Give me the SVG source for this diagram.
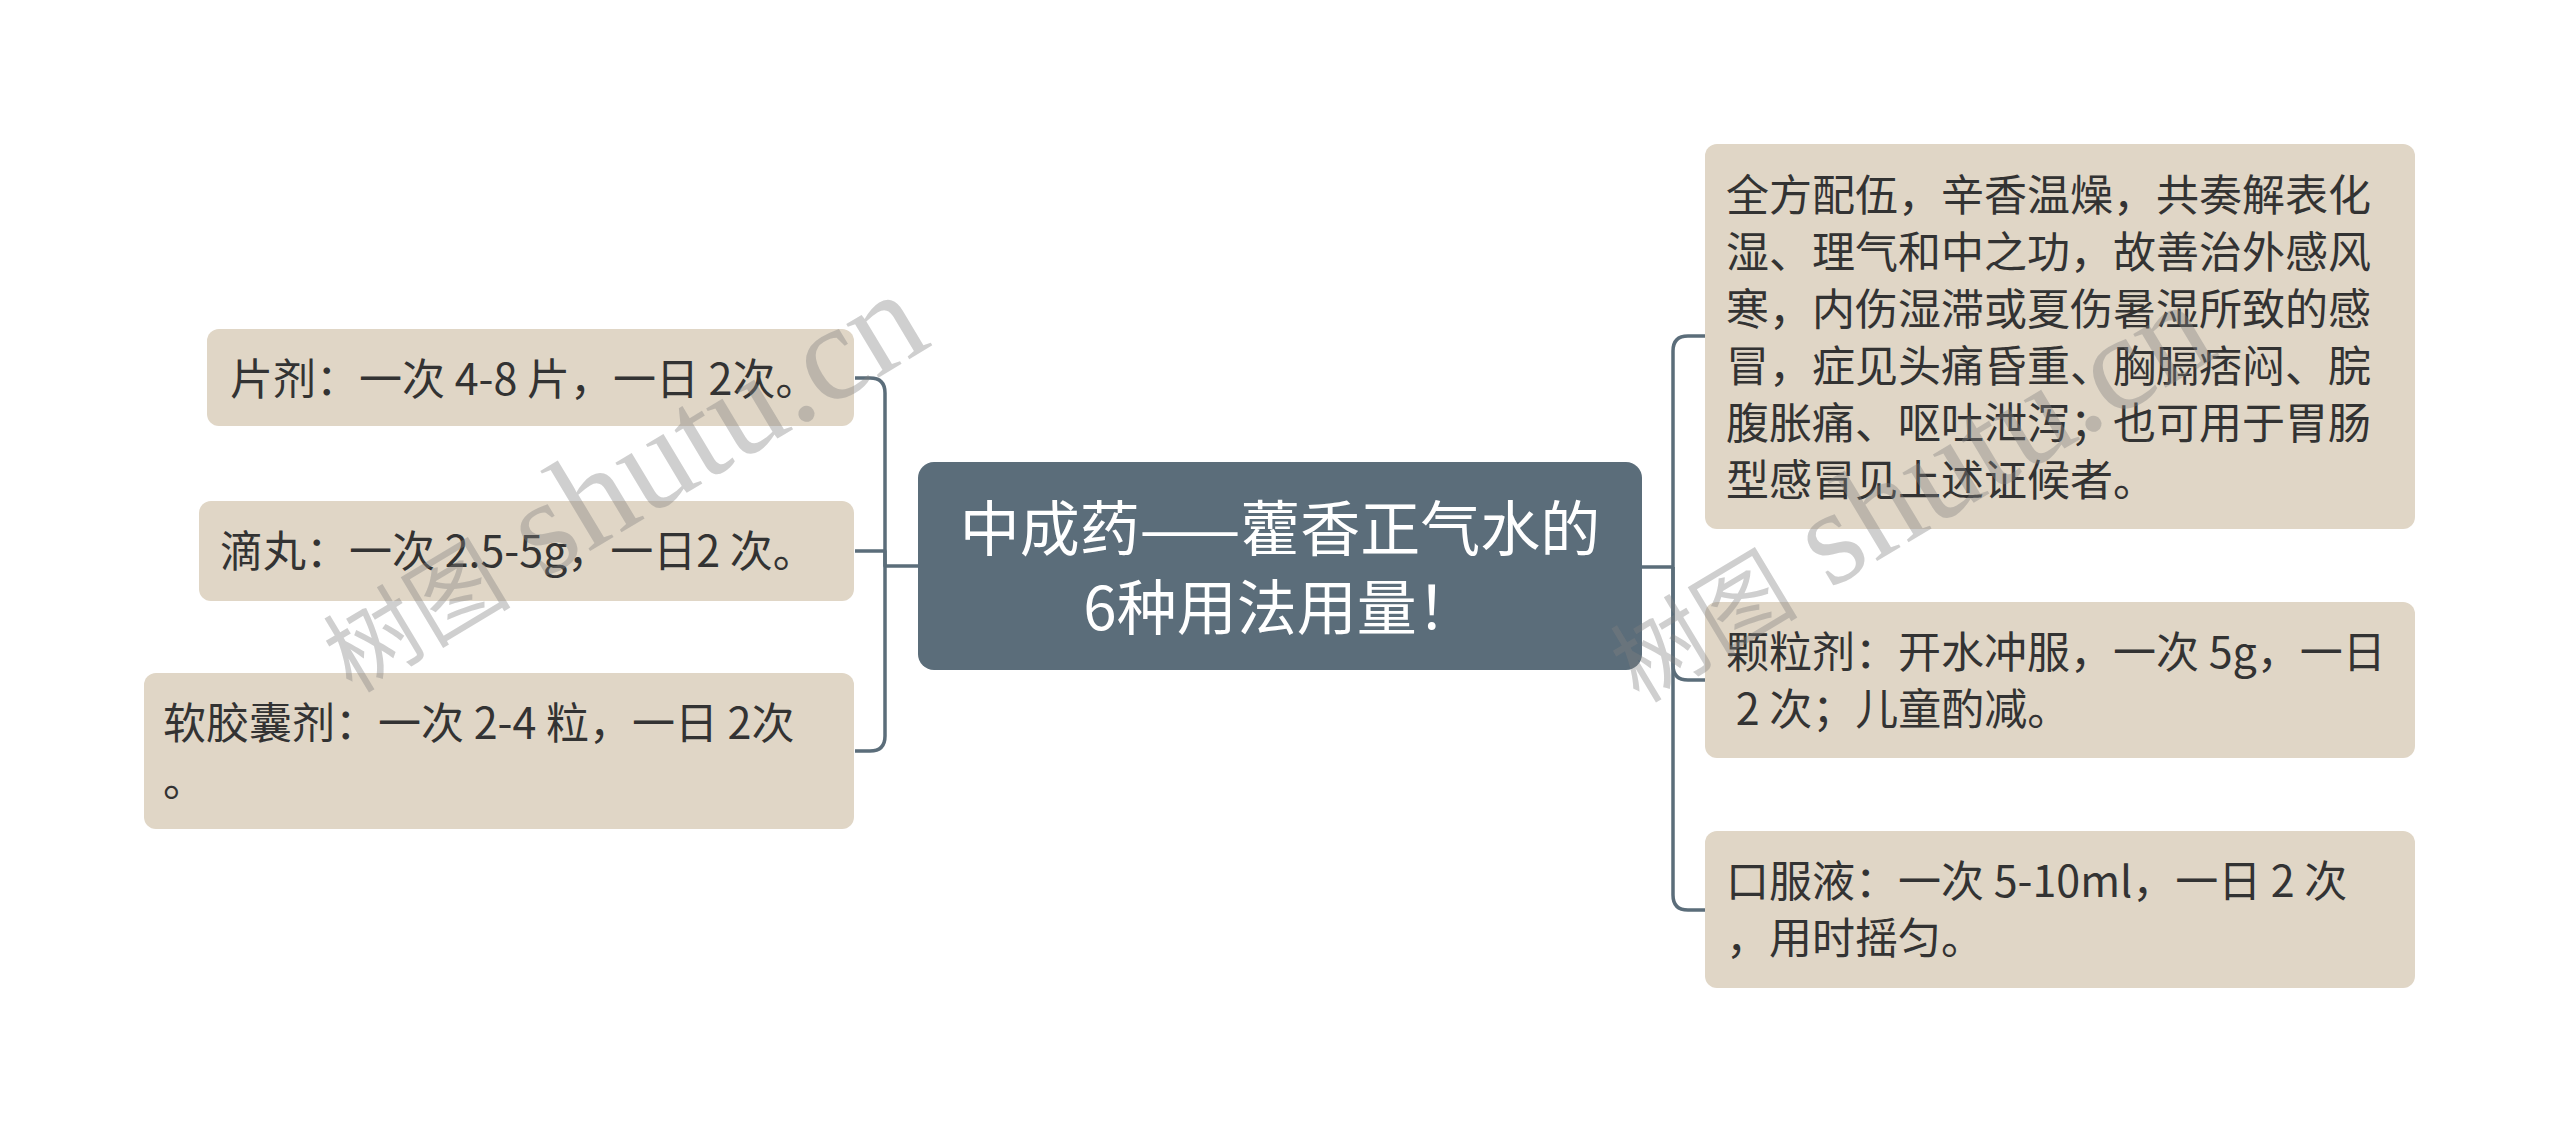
<svg xmlns="http://www.w3.org/2000/svg" width="2560" height="1132" viewBox="0 0 2560 1132">
<style>
.leaf{fill:#e0d6c6;}
.root{fill:#5b6d7a;}
.t{font-family:"Noto Sans CJK SC","Liberation Sans",sans-serif;font-size:43px;fill:#333333;}
.rt{font-family:"Noto Sans CJK SC","Liberation Sans",sans-serif;font-size:60px;fill:#ffffff;text-anchor:middle;}
.c{fill:none;stroke:#5b6d7a;stroke-width:3.5;stroke-linejoin:round;}
.wm{font-family:"Liberation Serif","Noto Sans CJK SC",serif;fill:#808080;fill-opacity:0.38;}
</style>
<rect width="2560" height="1132" fill="#ffffff"/>
<g id="connectors">
<path class="c" d="M918,566 H885 V393 Q885,378 870,378 H855"/>
<path class="c" d="M885,566 V551 H855"/>
<path class="c" d="M885,566 V736 Q885,751 870,751 H855"/>
<path class="c" d="M1642,567 H1673 V351 Q1673,336 1688,336 H1705"/>
<path class="c" d="M1673,567 V665 Q1673,680 1688,680 H1705"/>
<path class="c" d="M1673,567 V895 Q1673,910 1688,910 H1705"/>
</g>
<g id="root">
<rect class="root" x="918" y="462" width="724" height="208" rx="16"/>
<text class="rt" x="1280" y="551">中成药——藿香正气水的</text>
<text class="rt" x="1280" y="630">6种用法用量！</text>
</g>
<g id="n-pianji">
<rect class="leaf" x="207" y="329" width="647" height="97" rx="12"/>
<text class="t" x="230" y="395">片剂：一次 4-8 片，一日 2次。</text>
</g>
<g id="n-diwan">
<rect class="leaf" x="199" y="501" width="655" height="100" rx="12"/>
<text class="t" x="220" y="567">滴丸：一次 2.5-5g，一日2 次。</text>
</g>
<g id="n-ruanjiaonang">
<rect class="leaf" x="144" y="673" width="710" height="156" rx="12"/>
<text class="t" x="163" y="739">软胶囊剂：一次 2-4 粒，一日 2次</text>
<text class="t" x="163" y="796">。</text>
</g>
<g id="n-desc">
<rect class="leaf" x="1705" y="144" width="710" height="385" rx="12"/>
<text class="t" x="1726" y="211">全方配伍，辛香温燥，共奏解表化</text>
<text class="t" x="1726" y="268">湿、理气和中之功，故善治外感风</text>
<text class="t" x="1726" y="325">寒，内伤湿滞或夏伤暑湿所致的感</text>
<text class="t" x="1726" y="382">冒，症见头痛昏重、胸膈痞闷、脘</text>
<text class="t" x="1726" y="439">腹胀痛、呕吐泄泻；也可用于胃肠</text>
<text class="t" x="1726" y="496">型感冒见上述证候者。</text>
</g>
<g id="n-keliji">
<rect class="leaf" x="1705" y="602" width="710" height="156" rx="12"/>
<text class="t" x="1726" y="668">颗粒剂：开水冲服，一次 5g，一日</text>
<text class="t" x="1726" y="725" xml:space="preserve"> 2 次；儿童酌减。</text>
</g>
<g id="n-koufuye">
<rect class="leaf" x="1705" y="831" width="710" height="157" rx="12"/>
<text class="t" x="1726" y="897">口服液：一次 5-10ml，一日 2 次</text>
<text class="t" x="1726" y="954">，用时摇匀。</text>
</g>
<g id="watermarks">
<text class="wm" transform="translate(352,694) rotate(-31)"><tspan font-size="94">树图</tspan><tspan font-size="136"> shutu.cn</tspan></text>
<text class="wm" transform="translate(1639,704) rotate(-31)"><tspan font-size="94">树图</tspan><tspan font-size="136"> shutu.cn</tspan></text>
</g>
</svg>
